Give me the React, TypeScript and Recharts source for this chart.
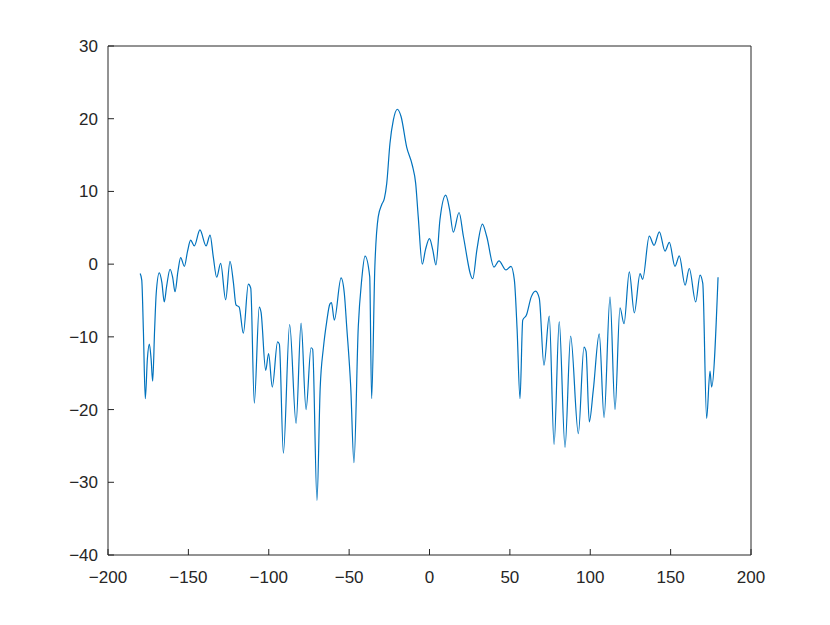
import React from "react";
import {
  LineChart,
  Line,
  XAxis,
  YAxis,
  ReferenceLine,
} from "recharts";

// angle (deg) and gain (dB), peaks and nulls
const angles = [
  -180, -179, -178, -176.8, -175.5, -174.3, -173.2, -172.2, -171, -170,
  -168.1, -166.5, -165, -163.5, -161.4, -159.8, -158.3, -156.5, -154.8, -152.5,
  -150.5, -148.6, -146.3, -142.8, -139, -136.5, -134.5, -132.4, -129.9, -126.8,
  -124.1, -122, -120.4, -118.4, -115.8, -112.7, -111.2, -109, -105.9, -104.8,
  -101.9, -100.1, -97.8, -94.5, -93.4, -90.9, -87, -83, -79.9, -76.8,
  -73.7, -72.7, -70, -68, -66, -64, -62, -61, -59.2, -55,
  -53, -51.5, -49, -47, -44.3, -42.2, -40.1, -37.2, -36, -34,
  -31.9, -29.7, -28.1, -26.6, -24.6, -22.5, -20, -17.7, -14.2, -10.7,
  -8.6, -7, -4.5, -2.5, 0, 2, 4, 6.5, 10.1, 12.5,
  14.8, 18.4, 21.1, 26.9, 29.5, 32.9, 35.6, 40.1, 43.2, 47.6,
  50.7, 52.8, 54.5, 56.3, 58, 60.3, 63.3, 66, 68.3, 71.2,
  74.5, 77.5, 80.7, 84.3, 87.8, 92.6, 96.1, 97.4, 99.4, 101.9,
  105.6, 108.6, 112.3, 115.4, 118.5, 121, 124.3, 127.4, 131, 132.6,
  136.7, 139.7, 143, 146.5, 149.2, 152.7, 155.4, 159, 161.6, 165.6,
  168.3, 170, 172.4, 174.5, 175.5, 179.5,
];

const gains = [
  -1.3, -2.2, -9, -18.5, -13, -11, -13, -16.1, -9, -4,
  -1.2, -2.5, -5.2, -3, -0.7, -1.8, -3.8, -1, 0.9, -0.3,
  1.8, 3.3, 2.5, 4.7, 2.5, 4.0, 1, -1.8, 0.1, -4.9,
  0.4, -2.5, -5.6, -5.9, -9.5, -2.75, -3.3, -19.1, -5.9, -6.6,
  -14.6, -12.3, -16.9, -10.7, -11, -26, -8.3, -21.9, -8.1, -20,
  -11.5, -11.7, -32.5, -17, -11.5, -8, -5.5, -5.3, -7.7, -1.9,
  -4, -8.6, -16.9, -27.3, -8.6, -2.2, 1.1, -1.7, -18.5, -0.4,
  6.5, 8.2, 9.0, 11.1, 16.6, 19.8, 21.3, 20.3, 16.1, 13.6,
  11.1, 6.5, 0, 2, 3.5, 2, -0.1, 6.1, 9.5, 7.5,
  4.4, 7.1, 3.8, -2, 2, 5.5, 3.8, -0.4, 0.45, -0.8,
  -0.3, -2.2, -9, -18.5, -7.7, -7.0, -4.5, -3.7, -4.7, -13.9,
  -7.15, -24.8, -7.9, -25.2, -9.9, -23.3, -11.4, -12, -21.7, -17.3,
  -9.6, -21.1, -4.5, -20, -6, -8.2, -1.05, -6.7, -1.3, -2.1,
  3.85, 2.6, 4.45, 1.8, 3.0, -0.3, 1.15, -2.9, -0.6, -5.2,
  -1.5, -2.65, -21.2, -14.7, -16.9, -1.8,
];

const xTicks = [-200, -150, -100, -50, 0, 50, 100, 150, 200];
const yTicks = [-40, -30, -20, -10, 0, 10, 20, 30];

const axisColor = "#262626";
const fmt = (v: number) => String(v).replace("-", "\u2212");

export default function App() {
  const data = angles.map((a, i) => ({ angle: a, gain: gains[i] }));

  return (
    <div
      style={{
        position: "absolute",
        left: 0,
        top: 0,
        width: 830,
        height: 625,
        background: "#fff",
      }}
    >
      <LineChart
        width={830}
        height={625}
        data={data}
        margin={{ top: 46, right: 79, bottom: 40, left: 48 }}
      >
        <XAxis
          dataKey="angle"
          type="number"
          domain={[-200, 200]}
          ticks={xTicks}
          height={30}
          stroke={axisColor}
          tickSize={-6}
          tickMargin={22}
          tickFormatter={fmt}
          tick={{ fill: axisColor, fontSize: 17, fontFamily: "Liberation Sans, Arial, sans-serif" }}
          interval={0}
        />
        <YAxis
          type="number"
          domain={[-40, 30]}
          ticks={yTicks}
          width={60}
          stroke={axisColor}
          tickSize={-6}
          tickMargin={16}
          tickFormatter={fmt}
          tick={{ fill: axisColor, fontSize: 17, fontFamily: "Liberation Sans, Arial, sans-serif" }}
          interval={0}
        />
        <ReferenceLine y={30} stroke={axisColor} />
        <ReferenceLine x={200} stroke={axisColor} />
        <Line
          type="monotone"
          dataKey="gain"
          stroke="#0072BD"
          strokeWidth={1.2}
          dot={false}
          isAnimationActive={false}
        />
      </LineChart>
    </div>
  );
}
